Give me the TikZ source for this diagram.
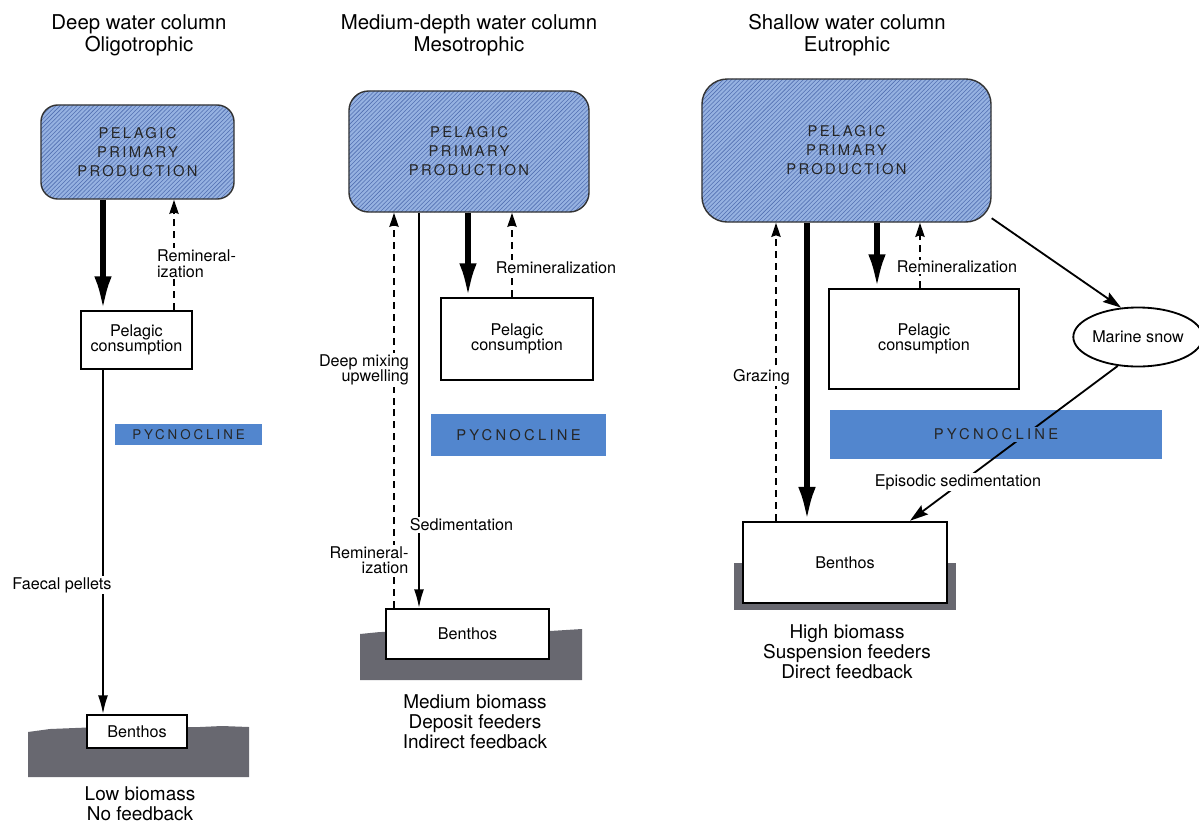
\documentclass[tikz,border=0pt]{standalone}
\usepackage{fontspec}
\setmainfont{TeX Gyre Heros}
\usetikzlibrary{arrows.meta,patterns,shapes.geometric}

\definecolor{pppblue}{RGB}{150,178,225}
\definecolor{pppline}{RGB}{82,112,178}
\definecolor{pycblue}{RGB}{82,134,206}
\definecolor{mud}{RGB}{104,104,112}

\newcommand{\lblfont}{\fontsize{11.5}{11}\selectfont}
\newcommand{\titlefont}{\fontsize{14.5}{15.5}\selectfont}
\newcommand{\outfont}{\fontsize{13.5}{14.3}\selectfont}
\newcommand{\pppfont}{\fontsize{10.5}{13.5}\selectfont\addfontfeature{LetterSpace=16}}

\begin{document}
\begin{tikzpicture}[x=0.025cm,y=-0.025cm,
  ppp/.style={draw=black!80,line width=1pt,rounded corners=#1,preaction={fill=pppblue},
    pattern=north east lines,pattern color=pppline,align=center,font=\pppfont,
    text=black!85,inner sep=0pt},
  box/.style={draw,line width=1.4pt,fill=white,align=center,font=\lblfont,inner sep=0pt},
  pycbar/.style={fill=pycblue,inner sep=0pt},
  pyctext/.style={fill=pycblue,inner sep=1pt,text=black!85,
    font={\fontsize{#1}{#1}\selectfont\addfontfeature{LetterSpace=22}}},
  lbl/.style={fill=white,inner sep=1pt,font=\lblfont},
  title/.style={align=center,font=\titlefont},
  endtext/.style={align=center,font=\outfont},
  bigarrow/.style={line width=3.8pt,-{Latex[length=24pt,width=12.5pt]}},
  thinarrow/.style={line width=1pt,-{Latex[length=13pt,width=7pt]}},
  dasharrow/.style={line width=1.3pt,dash pattern=on 5pt off 3.5pt,-{Stealth[length=10pt,width=6.5pt,inset=1pt]}},
  snowarrow/.style={line width=1.3pt,-{Stealth[length=13pt,width=8pt,inset=2pt]}}]
\useasboundingbox (0,0) rectangle (1199,824);

% titles
\node[title] (t1) at (139,35) {Deep water column\\Oligotrophic};
\node[title] (t2) at (469,35) {Medium-depth water column\\Mesotrophic};
\node[title] (t3) at (847,35) {Shallow water column\\Eutrophic};

% sea floor
\fill[mud] (28,732) -- (50,729) -- (75,728) -- (100,727) -- (200,727) -- (222,726) -- (249,727) -- (249,777) -- (28,777) -- cycle;
\fill[mud] (360,634) -- (380,632) -- (550,631) -- (582,629) -- (582,680) -- (360,680) -- cycle;
\fill[mud] (734,563) rectangle (956,610);

% deep column
\node[ppp=12pt,minimum width=4.825cm,minimum height=2.35cm] (ppp1) at (137.5,152) {PELAGIC\\PRIMARY\\PRODUCTION};
\node[box,minimum width=2.775cm,minimum height=1.45cm] (pc1) at (136.5,340) {Pelagic\\consumption};
\node[pycbar,minimum width=3.675cm,minimum height=0.525cm] (pyc1) at (188.5,434.5) {};
\node[box,line width=1.8pt,minimum width=2.5cm,minimum height=0.825cm] (ben1) at (137,731.5) {Benthos};

% medium column
\node[ppp=14pt,minimum width=6cm,minimum height=3.025cm] (ppp2) at (469,151.5) {PELAGIC\\PRIMARY\\PRODUCTION};
\node[box,minimum width=3.8cm,minimum height=2.05cm] (pc2) at (517,339) {Pelagic\\consumption};
\node[pycbar,minimum width=4.375cm,minimum height=1.05cm] (pyc2) at (518.5,435) {};
\node[box,line width=1.8pt,minimum width=4.075cm,minimum height=1.25cm] (ben2) at (467.5,634) {Benthos};

% shallow column
\node[ppp=18pt,minimum width=7.225cm,minimum height=3.575cm] (ppp3) at (846.5,150.5) {PELAGIC\\PRIMARY\\PRODUCTION};
\node[box,minimum width=4.75cm,minimum height=2.5cm] (pc3) at (924,339) {Pelagic\\consumption};
\node[pycbar,minimum width=8.3cm,minimum height=1.225cm] (pyc3) at (996,434.5) {};
\node[box,line width=1.8pt,minimum width=5.1cm,minimum height=2.025cm] (ben3) at (845,562.5) {Benthos};
\node[draw,ellipse,line width=1.3pt,fill=white,font=\lblfont,inner sep=0pt,
  minimum width=3.05cm,minimum height=1.475cm] (snow) at (1138,337) {Marine snow};

% x positions of the vertical fluxes
\coordinate (x1a) at (103,0);
\coordinate (x1b) at (174,0);
\coordinate (x2a) at (394,0);
\coordinate (x2b) at (419,0);
\coordinate (x2c) at (468,0);
\coordinate (x2d) at (512,0);
\coordinate (x3a) at (776,0);
\coordinate (x3b) at (807,0);
\coordinate (x3c) at (877,0);
\coordinate (x3d) at (920,0);

\draw[bigarrow] (ppp1.south -| x1a) -- (pc1.north -| x1a);
\draw[dasharrow] (pc1.north -| x1b) -- (ppp1.south -| x1b);
\draw[thinarrow] (pc1.south -| x1a) -- (ben1.north -| x1a);

\draw[bigarrow] (ppp2.south -| x2c) -- (pc2.north -| x2c);
\draw[dasharrow] (pc2.north -| x2d) -- (ppp2.south -| x2d);
\draw[thinarrow] (ppp2.south -| x2b) -- (ben2.north -| x2b);
\draw[dasharrow] (ben2.north -| x2a) -- (ppp2.south -| x2a);

\draw[bigarrow] (ppp3.south -| x3b) -- (ben3.north -| x3b);
\draw[dasharrow] (ben3.north -| x3a) -- (ppp3.south -| x3a);
\draw[bigarrow] (ppp3.south -| x3c) -- (pc3.north -| x3c);
\draw[dasharrow] (pc3.north -| x3d) -- (ppp3.south -| x3d);
\draw[snowarrow] (ppp3.-25) -- (snow.120);
\draw[snowarrow] (snow.235) -- ([xshift=1.625cm]ben3.north);

% labels
\node[lbl,align=left] (r1) at (196.5,263.5) {Remineral-\\ization};
\node[lbl] (f1) at (62,585) {Faecal pellets};
\node[lbl] (r2) at (556,267.5) {Remineralization};
\node[lbl,align=right] (m2) at (364,370) {Deep mixing\\upwelling};
\node[lbl,align=right] (r2b) at (369,560) {Remineral-\\ization};
\node[lbl] (s2) at (461.5,525) {Sedimentation};
\node[lbl] (g3) at (761.5,377) {Grazing};
\node[lbl] (r3) at (957,267) {Remineralization};
\node[lbl] (e3) at (958,482) {Episodic sedimentation};

\node[pyctext=9.5] at (pyc1) {PYCNOCLINE};
\node[pyctext=10.5] at (pyc2) {PYCNOCLINE};
\node[pyctext=10.5] at (pyc3) {PYCNOCLINE};

% outcome
\node[endtext] (o1) at (140,804) {Low biomass\\No feedback};
\node[endtext] (o2) at (475,722) {Medium biomass\\Deposit feeders\\Indirect feedback};
\node[endtext] (o3) at (847,652) {High biomass\\Suspension feeders\\Direct feedback};
\end{tikzpicture}
\end{document}
